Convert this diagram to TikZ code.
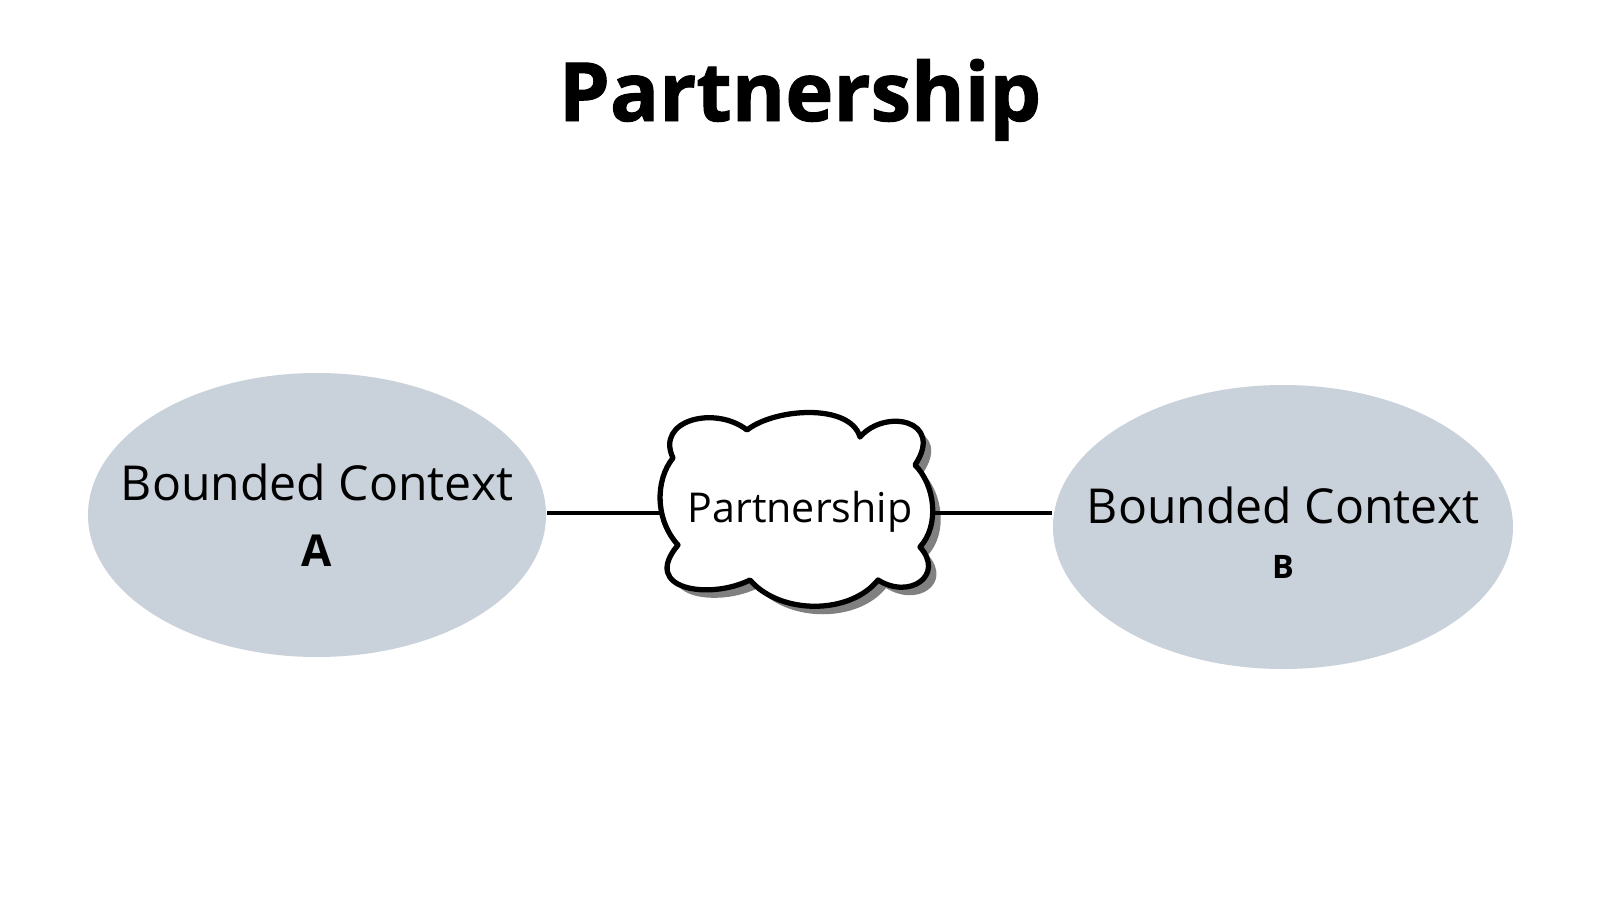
\documentclass[tikz,border=0pt]{standalone}
\usepackage{fontspec}
\setmainfont{Open Sans}
\newfontfamily\titlefont[FakeBold=1.2]{Open Sans Bold}
\definecolor{ctxfill}{HTML}{C9D1DA}
\definecolor{shadowgray}{HTML}{808080}
\begin{document}
\begin{tikzpicture}[x=0.01cm,y=-0.01cm,
  ctx/.style={ellipse, fill=ctxfill, inner sep=0pt},
  link/.style={line width=1.1pt},
  cloudline/.style={line width=1.5pt, line join=round},
  lbl/.style={anchor=base, inner sep=0pt}]
\useasboundingbox (0,0) rectangle (1600,900);
\fill[white] (0,0) rectangle (1600,900);
% title
\node[lbl] (title) at (800,121) {\fontsize{23.2}{26}\selectfont\titlefont Partnership};
% contexts
\fill[ctxfill] (317,515) ellipse [x radius=229, y radius=142];
\coordinate (A) at (317,515);
\coordinate (Aeast) at (547,513);
\fill[ctxfill] (1283,527) ellipse [x radius=230, y radius=142];
\coordinate (B) at (1283,527);
\coordinate (Bwest) at (1052,513);
\node[lbl] (Atxt) at (317,500) {\fontsize{13.7}{17}\selectfont Bounded Context};
\node[lbl] (Albl) at (317,566) {\fontsize{12.5}{15}\selectfont\bfseries A};
\node[lbl] (Btxt) at (1283,523) {\fontsize{13.7}{17}\selectfont Bounded Context};
\node[lbl] (Blbl) at (1283,578) {\fontsize{9.2}{11}\selectfont\bfseries B};
% cloud
\def\cloudpath{(673,458) .. controls (655,420) and (715,405) .. (747,430)
  .. controls (775,408) and (850,403) .. (860,437)
  .. controls (885,408) and (945,420) .. (915,465)
  .. controls (935,485) and (940,525) .. (920,547)
  .. controls (945,575) and (910,600) .. (878,580)
  .. controls (850,615) and (780,615) .. (750,580)
  .. controls (710,600) and (640,590) .. (678,545)
  .. controls (655,520) and (655,480) .. cycle}
\fill[shadowgray, shift={(8,8)}] \cloudpath;
\filldraw[cloudline, fill=white] \cloudpath;
\coordinate (cl) at (661,513);
\coordinate (cr) at (933,513);
\node[lbl] (ctxt) at (800,522) {\fontsize{11.7}{14}\selectfont Partnership};
% connectors
\draw[link] (Aeast) -- (cl);
\draw[link] (cr) -- (Bwest);
\end{tikzpicture}
\end{document}
